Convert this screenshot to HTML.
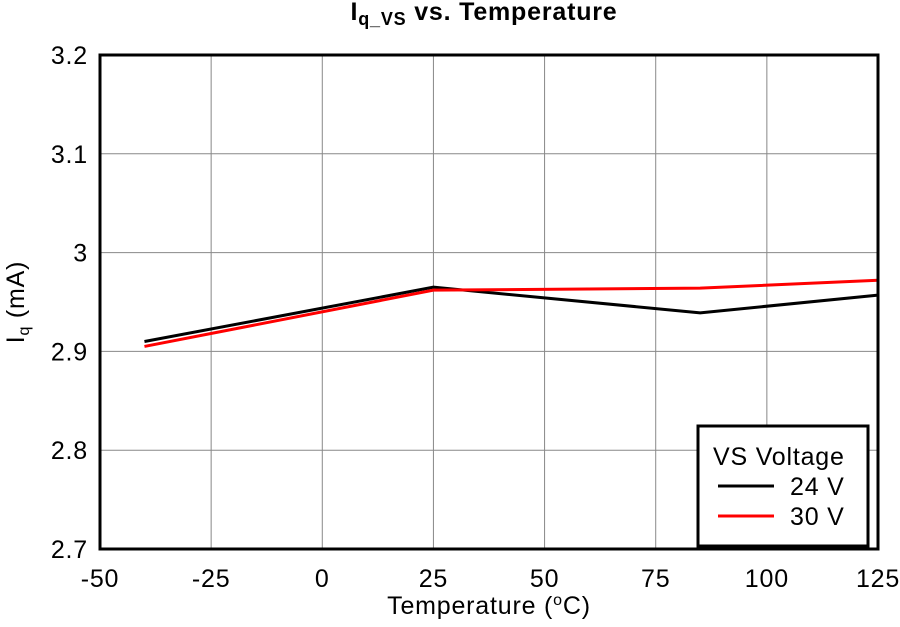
<!DOCTYPE html>
<html><head><meta charset="utf-8"><style>
body{margin:0;background:#fff;font-family:"Liberation Sans",Arial,sans-serif}
svg text{font-family:"Liberation Sans",Arial,sans-serif}
</style></head><body>
<svg id="c" width="900" height="622" viewBox="0 0 900 622" xmlns="http://www.w3.org/2000/svg">
<text x="484" y="20" text-anchor="middle" font-size="25" font-weight="bold" letter-spacing="0.8">I<tspan font-size="18" dy="5">q_VS</tspan><tspan dy="-5"> vs. Temperature</tspan></text>
<g id="grid"></g><g id="series"></g><g id="ticks"></g>
<rect x="100" y="55" width="778" height="494" fill="none" stroke="#000" stroke-width="3"/>
<text x="489" y="614" text-anchor="middle" font-size="25" letter-spacing="0.8">Temperature (<tspan font-size="16" dy="-9">o</tspan><tspan dy="9">C)</tspan></text>
<text transform="translate(24,302) rotate(-90)" text-anchor="middle" font-size="25" letter-spacing="0.8">I<tspan font-size="16" dy="5">q</tspan><tspan dy="-5"> (mA)</tspan></text>
<g>
<rect x="698" y="426" width="170" height="120" fill="#fff" stroke="#000" stroke-width="3"/>
<text x="713" y="465" font-size="25" letter-spacing="0.8">VS Voltage</text>
<line x1="718" y1="486" x2="774" y2="486" stroke="#000" stroke-width="3"/>
<text x="790" y="495" font-size="25" letter-spacing="0.8">24 V</text>
<line x1="718" y1="516" x2="774" y2="516" stroke="#f00" stroke-width="3"/>
<text x="790" y="525" font-size="25" letter-spacing="0.8">30 V</text>
</g>
</svg>
<script>
const temps=[-40,25,85,125];
const v24=[2.910,2.965,2.939,2.957];
const v30=[2.905,2.962,2.964,2.972];
const xTicks=[-50,-25,0,25,50,75,100,125];
const yTicks=[2.7,2.8,2.9,3.0,3.1,3.2];
const yLabels=["2.7","2.8","2.9","3","3.1","3.2"];
const NS="http://www.w3.org/2000/svg";
const X=v=>100+(v+50)/175*778;
const Y=v=>549-(v-2.7)/0.5*494;
const g=document.getElementById('grid'),t=document.getElementById('ticks'),s=document.getElementById('series');
function mk(tag,a,p){const e=document.createElementNS(NS,tag);for(const k in a)e.setAttribute(k,a[k]);p.appendChild(e);return e;}
xTicks.forEach(v=>{
 const l=mk('line',{x1:X(v),x2:X(v),y1:55,y2:549,stroke:'#888','stroke-width':1},g);
 
 
 const tx=mk('text',{x:X(v),y:587,'text-anchor':'middle','font-size':25,'letter-spacing':0.8},t);tx.textContent=v;
 
 
});
yTicks.forEach((v,i)=>{
 const l=mk('line',{x1:100,x2:878,y1:Y(v),y2:Y(v),stroke:'#888','stroke-width':1},g);
 
 
 const tx=mk('text',{x:88,y:Y(v)+9,'text-anchor':'end','font-size':25,'letter-spacing':0.8},t);tx.textContent=yLabels[i];
 
 
});
[[v24,'#000','series-24v'],[v30,'#f00','series-30v']].forEach(([d,c,n])=>{
 const p=mk('polyline',{points:temps.map((x,i)=>X(x)+','+Y(d[i])).join(' '),fill:'none',stroke:c,'stroke-width':3},s);
 
 
});
</script>
</body></html>
